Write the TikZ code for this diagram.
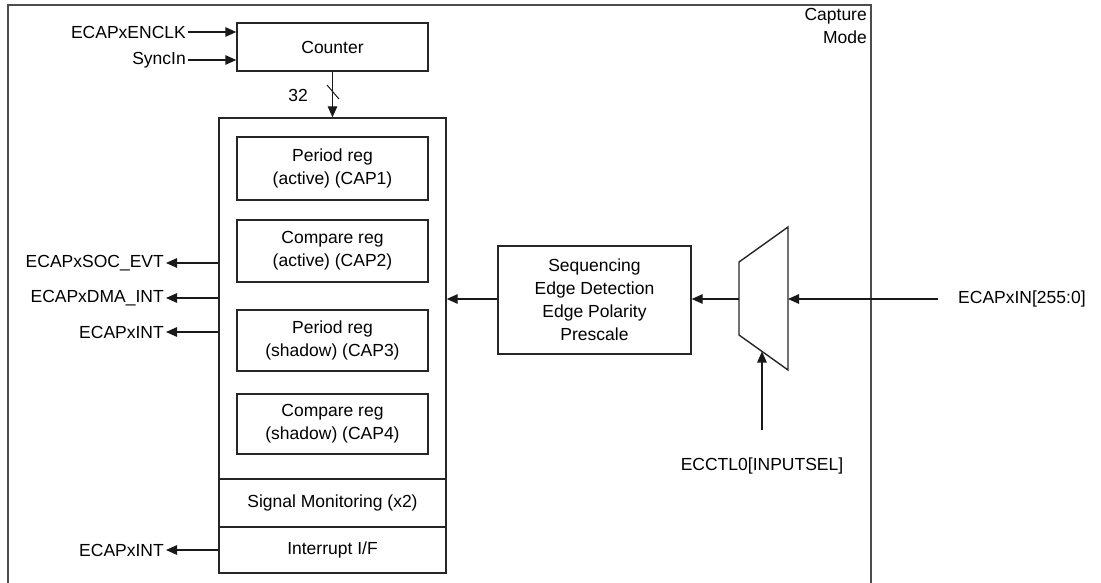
\documentclass[tikz,border=0pt]{standalone}
\usepackage{fontspec}
\setmainfont{Liberation Sans}
\usetikzlibrary{arrows.meta}
\begin{document}
\begin{tikzpicture}[x=1pt,y=-1pt,
  every node/.style={font=\fontsize{17.5}{23}\selectfont, inner sep=0pt},
  blk/.style={draw=black!85, line width=1.4pt, minimum width=191pt, align=center},
  region/.style={draw=black!85, line width=1.4pt, minimum width=227pt, align=center},
  lbl/.style={inner sep=2pt},
  arr/.style={draw=black!90, line width=1.4pt, -{Triangle[length=11pt,width=9.5pt]}},
  wire/.style={draw=black!90, line width=1.4pt}]
\useasboundingbox (0,0) rectangle (1101,583);
% outer frame
\draw[draw=black!70, line width=1.8pt] (8,583) -- (8,5) -- (871,5) -- (871,583);
\node[anchor=north east, align=right] (mode) at (867,8) {Capture\\Mode};

% counter
\node[blk, minimum height=48pt] (counter) at (332.5,47) {Counter};
\node[lbl, anchor=east] (enclk) at (188,32) {ECAPxENCLK};
\node[lbl, anchor=east] (syncin) at (188,60) {SyncIn};
\draw[arr] (enclk.east) -- (enclk.east -| counter.west);
\draw[arr] (syncin.east) -- (syncin.east -| counter.west);

% capture block
\node[region, minimum height=361pt] (regs) at (332.5,298.5) {};
\node[region, minimum height=48pt] (sigmon) at (332.5,503) {Signal Monitoring (x2)};
\node[region, minimum height=46pt] (intf) at (332.5,550) {Interrupt I/F};

\node[blk, minimum height=63pt] (cap1) at (332.5,168.5) {Period reg\\(active) (CAP1)};
\node[blk, minimum height=62pt] (cap2) at (332.5,251) {Compare reg\\(active) (CAP2)};
\node[blk, minimum height=61pt] (cap3) at (332.5,340.5) {Period reg\\(shadow) (CAP3)};
\node[blk, minimum height=60pt] (cap4) at (332.5,424) {Compare reg\\(shadow) (CAP4)};

% 32-bit bus
\draw[arr] (counter.south) -- (regs.north);
\coordinate (slA) at (327,85);
\coordinate (slB) at (339,99);
\draw[wire, line width=1pt] (slA) -- (slB);
\node (bus) at (298,95) {32};

% outputs
\node[lbl, anchor=east] (socevt) at (166,263) {ECAPxSOC\_EVT};
\node[lbl, anchor=east] (dmaint) at (166,298) {ECAPxDMA\_INT};
\node[lbl, anchor=east] (xint) at (166,332) {ECAPxINT};
\node[lbl, anchor=east] (xint2) at (166,550) {ECAPxINT};
\draw[arr] (socevt.east -| regs.west) -- (socevt.east);
\draw[arr] (dmaint.east -| regs.west) -- (dmaint.east);
\draw[arr] (xint.east -| regs.west) -- (xint.east);
\draw[arr] (intf.west |- xint2.east) -- (xint2.east);

% sequencing
\node[blk, minimum width=193pt, minimum height=108pt] (seq) at (594.5,300)
  {Sequencing\\Edge Detection\\Edge Polarity\\Prescale};
\draw[arr] (seq.west |- 0,299) -- (regs.east |- 0,299);

% mux
\coordinate (m1) at (739,262);
\coordinate (m2) at (788,227);
\coordinate (m3) at (788,370);
\coordinate (m4) at (739,335);
\draw[draw=black!85, line width=1.4pt] (m1) -- (m2) -- (m3) -- (m4) -- cycle;
\coordinate (muxL) at (739,299);
\coordinate (muxR) at (788,299);
\coordinate (muxB) at (762,351.5);
\draw[arr] (muxL) -- (seq.east |- muxL);

\coordinate (inS) at (938,299);
\node[anchor=west] (ecapin) at (958,299) {ECAPxIN[255:0]};
\draw[arr] (inS) -- (muxR);

\coordinate (selS) at (762,430);
\node (insel) at (762,466) {ECCTL0[INPUTSEL]};
\draw[arr] (selS) -- (muxB);
\end{tikzpicture}
\end{document}
